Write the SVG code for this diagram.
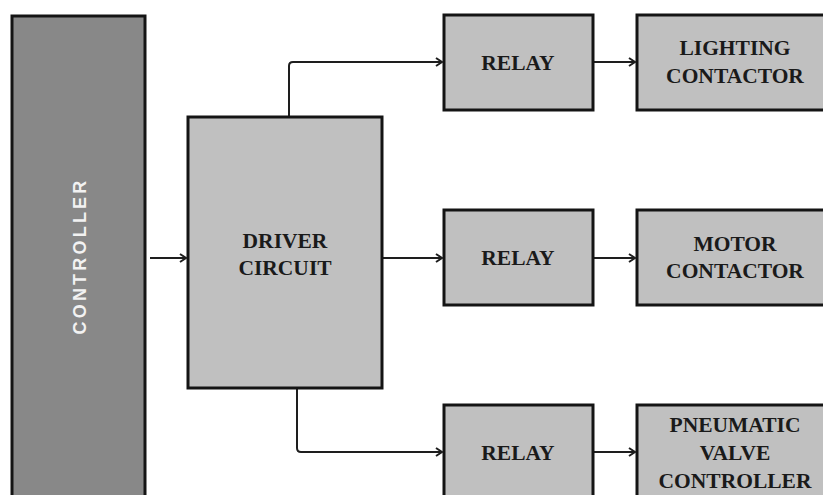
<svg xmlns="http://www.w3.org/2000/svg" width="823" height="495" viewBox="0 0 823 495">
<style>
.box{fill:#c0c0c0;stroke:#141414;stroke-width:3}
.ctl{fill:#888888;stroke:#141414;stroke-width:3}
.lbl{font-family:"Liberation Serif",serif;font-weight:bold;font-size:21.5px;fill:#1a1a1a;text-anchor:middle}
.ctltxt{font-family:"Liberation Sans",Arial,sans-serif;font-weight:bold;font-size:18px;fill:#f2f2f2;text-anchor:middle;letter-spacing:3.2px}
.con{fill:none;stroke:#1e1e1e;stroke-width:2;marker-end:url(#arr)}
</style>
<defs>
<marker id="arr" markerWidth="10" markerHeight="10" refX="8" refY="5" orient="auto" markerUnits="userSpaceOnUse">
<path d="M2,1 L8,5 L2,9" fill="none" stroke="#1e1e1e" stroke-width="2"/>
</marker>
</defs>
<rect width="823" height="495" fill="#ffffff"/>
<g id="connectors">
<path class="con" d="M150,258 H186"/>
<path class="con" d="M289,117 V66 Q289,62 293,62 H442"/>
<path class="con" d="M383,258 H442"/>
<path class="con" d="M297,389 V448 Q297,452 301,452 H442"/>
<path class="con" d="M593,62 H635"/>
<path class="con" d="M593,258 H635"/>
<path class="con" d="M593,452 H635"/>
</g>
<g id="controller">
<rect class="ctl" x="12" y="16" width="133" height="500"/>
<text class="ctltxt" transform="translate(85.5,256) rotate(-90)">CONTROLLER</text>
</g>
<g id="driver">
<rect class="box" x="188" y="117" width="194" height="271"/>
<text class="lbl" x="285" y="248">DRIVER</text>
<text class="lbl" x="285" y="275">CIRCUIT</text>
</g>
<g id="relay1">
<rect class="box" x="444" y="15" width="149" height="95"/>
<text class="lbl" x="518" y="70">RELAY</text>
</g>
<g id="relay2">
<rect class="box" x="444" y="210" width="149" height="95"/>
<text class="lbl" x="518" y="265">RELAY</text>
</g>
<g id="relay3">
<rect class="box" x="444" y="405" width="149" height="120"/>
<text class="lbl" x="518" y="460">RELAY</text>
</g>
<g id="lighting">
<rect class="box" x="637" y="15" width="200" height="95"/>
<text class="lbl" x="735" y="55">LIGHTING</text>
<text class="lbl" x="735" y="83">CONTACTOR</text>
</g>
<g id="motor">
<rect class="box" x="637" y="210" width="200" height="95"/>
<text class="lbl" x="735" y="251">MOTOR</text>
<text class="lbl" x="735" y="278">CONTACTOR</text>
</g>
<g id="pneumatic">
<rect class="box" x="637" y="405" width="200" height="120"/>
<text class="lbl" x="735" y="432">PNEUMATIC</text>
<text class="lbl" x="735" y="460">VALVE</text>
<text class="lbl" x="735" y="488">CONTROLLER</text>
</g>
</svg>
